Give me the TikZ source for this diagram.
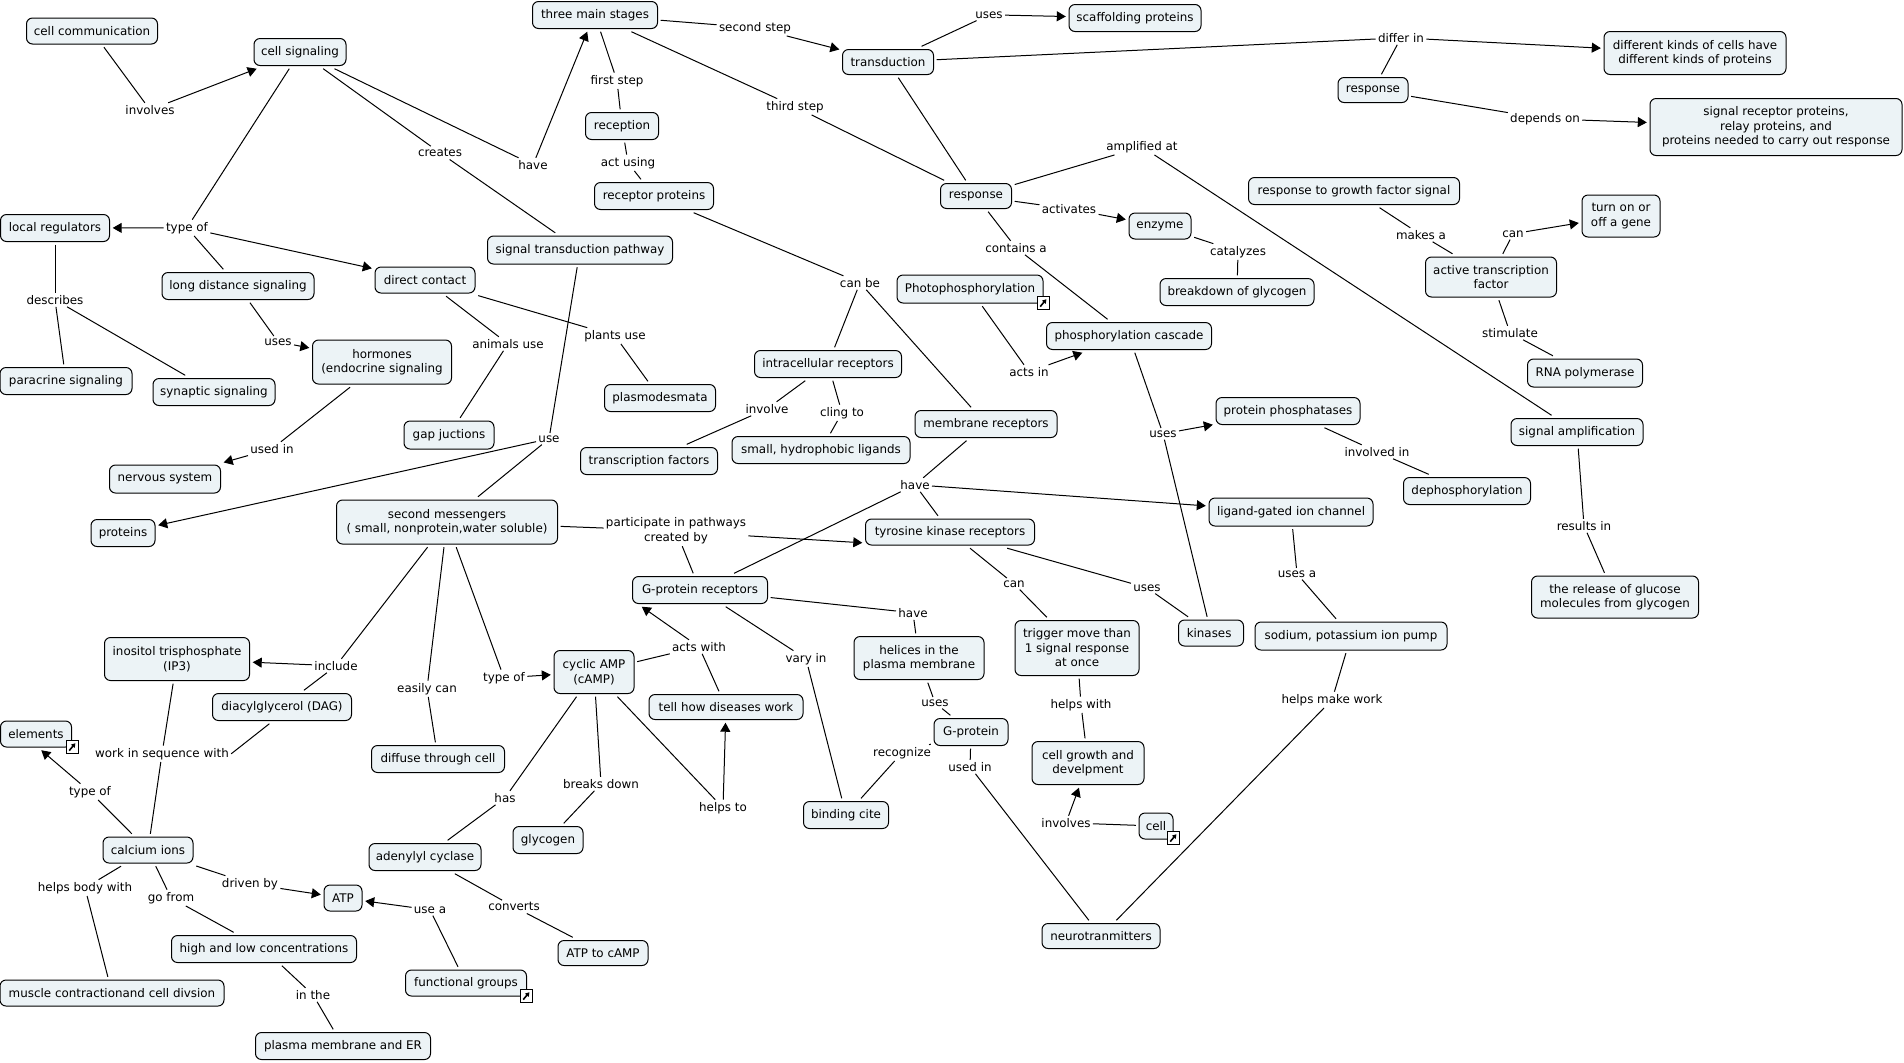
\documentclass[tikz,border=0pt]{standalone}
\usepackage{fontspec}
\setmainfont{DejaVu Sans}
\usetikzlibrary{arrows.meta}
\definecolor{ConceptFill}{RGB}{236,243,246}
\tikzset{
	concept/.style={draw=black,fill=ConceptFill,rounded corners=3pt,line width=0.5pt,inner sep=0pt,outer sep=1.6pt,align=center,font=\fontsize{5.95}{7.25}\selectfont},
	linkword/.style={inner sep=1.2pt,outer sep=0pt,align=center,yshift=-0.4pt,font=\fontsize{5.95}{7.25}\selectfont},
	conn/.style={draw=black,line width=0.5pt},
	connarrow/.style={conn,-{Triangle[length=4.5pt,width=5pt]}},
	linkicon/.style={draw=black,fill=white,line width=0.5pt,minimum width=6pt,minimum height=6.4pt,inner sep=0pt,
		path picture={\draw[line width=0.8pt,-{Triangle[length=2pt,width=2.4pt]}] ([shift={(1.6pt,1.4pt)}]path picture bounding box.south west)--([shift={(-1.3pt,-1.3pt)}]path picture bounding box.north east);}},
}
\begin{document}
\begin{tikzpicture}[x=0.5pt,y=-0.5pt]
	\useasboundingbox (0,0) rectangle (1904,1062);
	\foreach \nm/\x/\y/\w/\h/\lab in {
		comm/92/31/131/26/cell communication,
		signaling/300/52/92/27/cell signaling,
		stages/595/15/125/27/three main stages,
		reception/622/126/73/27/reception,
		recprot/654/196/119/27/receptor proteins,
		local/55/228/109/27/local regulators,
		longdist/238/286/152/27/long distance signaling,
		direct/425/280/100/26/direct contact,
		pathway/580/250/185/28/signal transduction pathway,
		paracrine/66/381/132/27/paracrine signaling,
		synaptic/214/392/122/27/synaptic signaling,
		hormones/382/362/139/44/{hormones\\(endocrine signaling},
		plasmo/660/398/111/27/plasmodesmata,
		gap/449/435/90/28/gap juctions,
		nervous/165/479/111/28/nervous system,
		proteins/123/533/64/27/proteins,
		second/447/522/221/44/{second messengers\\( small, nonprotein,water soluble)},
		inositol/177/659/145/43/{inositol trisphosphate\\(IP3)},
		dag/282/707/139/27/diacylglycerol (DAG),
		elements/36/734/71/26/elements,
		diffuse/438/759/133/27/diffuse through cell,
		camp/594/672/80/43/{cyclic AMP\\(cAMP)},
		calcium/148/850/90/26/calcium ions,
		atp/343/898/38/26/ATP,
		highlow/264/949/185/27/high and low concentrations,
		muscle/112/993/224/26/muscle contractionand cell divsion,
		plasma/343/1046/175/27/plasma membrane and ER,
		groups/466/983/121/26/functional groups,
		adenylyl/425/857/112/27/adenylyl cyclase,
		glycogen/548/840/70/27/glycogen,
		atpcamp/603/953/90/25/ATP to cAMP,
		transfac/649/461/137/27/transcription factors,
		hydro/821/450/178/27/{small, hydrophobic ligands},
		tyrosine/950/532/169/26/tyrosine kinase receptors,
		gprec/700/590/135/27/G-protein receptors,
		trigger/1077/648/124/55/{trigger move than\\1 signal response\\at once},
		helices/919/658/130/43/{helices in the\\plasma membrane},
		diseases/726/707/154/25/tell how diseases work,
		gprot/971/732/74/27/G-protein,
		growth/1088/763/112/43/{cell growth and\\develpment},
		binding/846/815/85/27/binding cite,
		neuro/1101/936/118/25/neurotranmitters,
		cell/1156/826/34/26/cell,
		kinases/1211/633/65/26/{kinases\ },
		sodium/1351/636/192/28/{sodium, potassium ion pump},
		ligand/1291/512/164/28/ligand-gated ion channel,
		release/1615/597/167/42/{the release of glucose\\molecules from glycogen},
		dephos/1467/491/127/27/dephosphorylation,
		transduction/888/62/91/25/transduction,
		respa/976/196/71/25/response,
		photo/970/289/146/28/Photophosphorylation,
		cascade/1129/336/165/27/phosphorylation cascade,
		intra/828/364/147/27/intracellular receptors,
		membrane/986/424/142/27/membrane receptors,
		scaffold/1135/18/132/27/scaffolding proteins,
		kinds/1695/53/182/43/{different kinds of cells have\\different kinds of proteins},
		respb/1373/90/70/25/response,
		recset/1776/127/252/57/{signal receptor proteins,\\relay proteins, and\\proteins needed to carry out response},
		growthsig/1354/191/211/27/response to growth factor signal,
		turn/1621/216/78/42/{turn on or\\off a gene},
		enzyme/1160/226/62/26/enzyme,
		breakdown/1237/292/154/27/breakdown of glycogen,
		active/1491/277/131/40/{active transcription\\factor},
		rna/1585/373/115/28/RNA polymerase,
		phosphatases/1288/411/144/27/protein phosphatases,
		amplif/1577/432/132/27/signal amplification}
	\node[concept,minimum width=0.5pt*\w,minimum height=0.5pt*\h] (\nm) at (\x,\y) {\lab};
	\foreach \nm/\x/\y/\lab in {
		lInvolves/150/109/involves,
		lCreates/440/152/creates,
		lHaveA/533/164/have,
		lFirst/617/80/first step,
		lActUsing/628/162/act using,
		lTypeA/187/227/type of,
		lDescribes/55/299/describes,
		lUsesA/278/341/uses,
		lAnimals/508/343/animals use,
		lPlants/615/335/plants use,
		lUsedA/272/448/used in,
		lUse/549/438/use,
		lPart/676/530/{participate in pathways\\created by},
		lInclude/336/665/include,
		lSeq/162/753/work in sequence with,
		lEasily/427/688/easily can,
		lTypeB/504/677/type of,
		lTypeC/90/791/type of,
		lHelpsBody/85/887/helps body with,
		lGoFrom/171/897/go from,
		lDriven/250/883/driven by,
		lUseA/430/909/use a,
		lInThe/313/994/in the,
		lHas/505/797/has,
		lBreaks/601/783/breaks down,
		lConverts/514/906/converts,
		lHaveB/915/484/have,
		lHaveC/913/612/have,
		lCan/1014/583/can,
		lActsWith/699/646/acts with,
		lVary/806/658/vary in,
		lUsesB/935/702/uses,
		lRecog/902/752/recognize,
		lUsedB/970/766/used in,
		lHelpsWith/1081/704/helps with,
		lHelpsTo/723/807/helps to,
		lInvolvesB/1066/822/involves,
		lUsesC/1147/587/uses,
		lUsesCa/1297/573/uses a,
		lHelpsMake/1332/699/helps make work,
		lResults/1584/525/results in,
		lSecond/755/27/second step,
		lUsesD/989/14/uses,
		lThird/795/106/third step,
		lActivates/1069/208/activates,
		lContains/1016/247/contains a,
		lCanBe/860/282/can be,
		lActsIn/1029/371/acts in,
		lInvolve/767/408/involve,
		lCling/842/412/cling to,
		lDiffer/1401/37/differ in,
		lDepends/1545/118/depends on,
		lAmplified/1142/146/amplified at,
		lCatalyzes/1238/251/catalyzes,
		lMakes/1421/234/makes a,
		lCanB/1513/233/can,
		lStim/1510/332/stimulate,
		lUsesE/1163/433/uses,
		lInvolved/1377/451/involved in}
	\node[linkword] (\nm) at (\x,\y) {\lab};
	\foreach \u/\v in {
		comm/lInvolves,signaling/lTypeA,lTypeA/longdist,signaling/lCreates,lCreates/pathway,signaling/lHaveA,
		stages/lFirst,lFirst/reception,reception/lActUsing,lActUsing/recprot,stages/lSecond,stages/lThird,lThird/respa,
		transduction/lUsesD,transduction/lDiffer,lDiffer/respb,respb/lDepends,transduction/respa,
		respa/lAmplified,lAmplified/amplif,respa/lActivates,enzyme/lCatalyzes,lCatalyzes/breakdown,respa/lContains,lContains/cascade,
		photo/lActsIn,cascade/lUsesE,lUsesE/kinases,phosphatases/lInvolved,lInvolved/dephos,
		growthsig/lMakes,lMakes/active,active/lCanB,active/lStim,lStim/rna,amplif/lResults,lResults/release,
		local/lDescribes,lDescribes/paracrine,lDescribes/synaptic,longdist/lUsesA,hormones/lUsedA,
		direct/lAnimals,lAnimals/gap,direct/lPlants,lPlants/plasmo,pathway/lUse,lUse/second,
		recprot/lCanBe,lCanBe/intra,lCanBe/membrane,intra/lInvolve,lInvolve/transfac,intra/lCling,lCling/hydro,
		membrane/lHaveB,lHaveB/tyrosine,lHaveB/gprec,second/lPart,lPart/gprec,
		gprec/lHaveC,lHaveC/helices,gprec/lVary,lVary/binding,helices/lUsesB,lUsesB/gprot,gprot/lRecog,lRecog/binding,gprot/lUsedB,lUsedB/neuro,
		tyrosine/lCan,lCan/trigger,tyrosine/lUsesC,lUsesC/kinases,trigger/lHelpsWith,lHelpsWith/growth,cell/lInvolvesB,
		ligand/lUsesCa,lUsesCa/sodium,sodium/lHelpsMake,lHelpsMake/neuro,
		second/lInclude,lInclude/dag,second/lEasily,lEasily/diffuse,second/lTypeB,
		camp/lActsWith,diseases/lActsWith,camp/lHas,lHas/adenylyl,camp/lBreaks,lBreaks/glycogen,camp/lHelpsTo,
		adenylyl/lConverts,lConverts/atpcamp,groups/lUseA,
		inositol/lSeq,lSeq/calcium,dag.-127/lSeq.east,calcium/lTypeC,calcium/lHelpsBody,lHelpsBody/muscle,calcium/lGoFrom,lGoFrom/highlow,highlow/lInThe,lInThe/plasma,calcium/lDriven}
	\draw[conn] (\u) -- (\v);
	\foreach \u/\v in {
		lInvolves/signaling,lTypeA/local,lTypeA/direct,lHaveA/stages.245,lSecond/transduction,lUsesD/scaffold,lDiffer/kinds,lDepends/recset,
		lActivates/enzyme,lActsIn/cascade,lUsesE/phosphatases,lCanB/turn,lUsesA/hormones,lUsedA/nervous,lUse/proteins,
		lHaveB/ligand,lPart.-4/tyrosine.187,lInvolvesB/growth,lInclude/inositol,lTypeB/camp,lActsWith/gprec.196,lHelpsTo/diseases,
		lUseA/atp,lTypeC/elements.-72,lDriven/atp}
	\draw[connarrow] (\u) -- (\v);
	\foreach \nm/\x/\y in {icElements/72/747,icGroups/526/996,icPhoto/1043/303,icCell/1173/838}
	\node[linkicon] (\nm) at (\x,\y) {};
\end{tikzpicture}
\end{document}
